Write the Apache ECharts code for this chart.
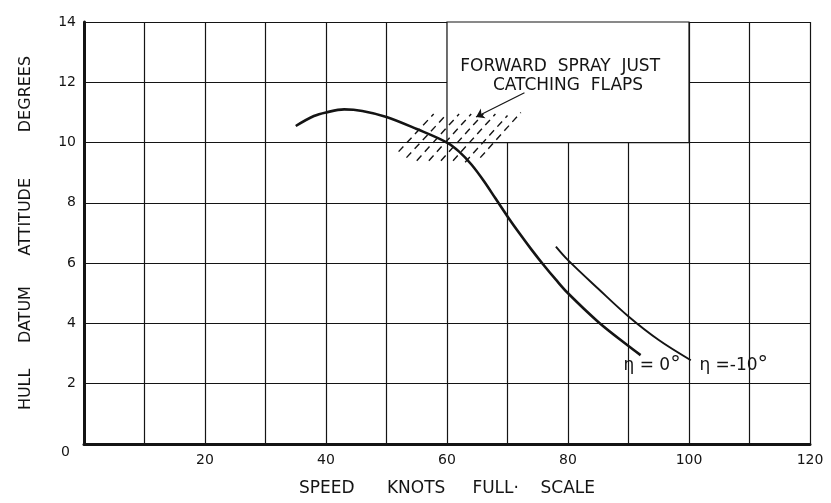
<!DOCTYPE html>
<html>
<head>
<meta charset="utf-8">
<script src="https://cdn.jsdelivr.net/npm/echarts@6/dist/echarts.min.js"></script>
<style>
	html, body { margin: 0; padding: 0; background: #fff; }
	#chart { width: 831px; height: 503px; }
</style>
</head>
<body>
<div id="chart"></div>
<script>
	// η = 0° 曲线 (speed knots / attitude deg)
	const speedEta0 = [35, 38, 40, 43, 46, 50, 55, 60, 62, 64, 66, 68, 70, 72, 74, 76, 78, 80, 85, 90, 92]
	const attitudeEta0 = [10.55, 10.88, 11.0, 11.1, 11.05, 10.85, 10.45, 10.0, 9.7, 9.28, 8.75, 8.15, 7.55, 6.98, 6.44, 5.93, 5.45, 5.0, 4.05, 3.25, 2.95]
	// η = -10° 曲线
	const speedEta10 = [78, 80, 85, 90, 95, 100.3]
	const attitudeEta10 = [6.55, 6.1, 5.15, 4.23, 3.45, 2.78]
	// 喷溅区域的虚线阴影
	const hatchX0 = [52.0, 53.3, 55.0, 57.0, 59.0, 61.0, 63.0, 65.5]
	const hatchY0 = [9.7, 9.5, 9.4, 9.4, 9.4, 9.4, 9.35, 9.5]
	const hatchX1 = [57.8, 60.0, 62.0, 64.0, 66.0, 68.0, 70.0, 72.2]
	const hatchY1 = [10.95, 10.95, 10.95, 10.95, 10.95, 10.95, 10.9, 11.0]
	// 注释框 (无网格) 和箭头
	const noteBox = [[60, 10], [100, 14]]
	const arrowFrom = [72.8, 11.65]
	const arrowTo = [64.8, 10.85]
	const noteText = ['FORWARD  SPRAY  JUST', 'CATCHING  FLAPS']
	const notePos = [[78.7, 12.53], [80.0, 11.88]]
	const curveLabelPos = [[93.9, 2.6], [107.4, 2.6]]
	const curveLabelText = ['{t|η = 0}{g|°}', '{t|η =-10}{g|°}']

	const ink = '#141414'
	const font = 'DejaVu Sans'
	const chart = echarts.init(document.getElementById('chart'))

	const toPairs = (xs, ys) => xs.map((x, i) => [x, ys[i]])

	const option = {
		animation: false,
		backgroundColor: '#fff',
		grid: { left: 84, right: 21, top: 22, bottom: 59 },
		xAxis: {
			type: 'value',
			min: 0,
			max: 120,
			interval: 10,
			name: 'SPEED      KNOTS     FULL·    SCALE',
			nameLocation: 'middle',
			nameGap: 36,
			nameTextStyle: { color: ink, fontSize: 17, fontFamily: font },
			axisLine: { show: true, lineStyle: { color: ink, width: 3 } },
			axisTick: { show: false },
			splitLine: { show: true, lineStyle: { color: ink, width: 1.2 } },
			axisLabel: {
				color: ink,
				fontSize: 14,
				fontFamily: font,
				margin: 9,
				formatter: v => (v > 0 && v % 20 === 0) ? String(v) : ''
			}
		},
		yAxis: {
			type: 'value',
			min: 0,
			max: 14,
			interval: 2,
			name: 'HULL     DATUM      ATTITUDE         DEGREES',
			nameLocation: 'middle',
			nameRotate: 90,
			nameGap: 50,
			nameTextStyle: { color: ink, fontSize: 16, fontFamily: font },
			axisLine: { show: true, lineStyle: { color: ink, width: 3 } },
			axisTick: { show: false },
			splitLine: { show: true, lineStyle: { color: ink, width: 1.2 } },
			axisLabel: {
				color: ink,
				fontSize: 14,
				fontFamily: font,
				margin: 8,
				formatter: v => v === 0 ? '{o|0}' : String(v),
				rich: { o: { fontSize: 14, fontFamily: font, color: ink, padding: [16, 6, 0, 0] } }
			}
		},
		series: [
			{
				// 注释框: 白底盖住网格
				type: 'line',
				z: 1,
				data: [],
				silent: true,
				markArea: {
					silent: true,
					itemStyle: { color: '#fff', borderColor: ink, borderWidth: 1.2, opacity: 1 },
					data: [[{ coord: noteBox[0] }, { coord: noteBox[1] }]]
				}
			},
			{
				name: 'eta0',
				type: 'line',
				z: 4,
				smooth: 0.35,
				showSymbol: false,
				data: toPairs(speedEta0, attitudeEta0),
				lineStyle: { color: ink, width: 2.6 }
			},
			{
				name: 'eta-10',
				type: 'line',
				z: 4,
				smooth: 0.35,
				showSymbol: false,
				data: toPairs(speedEta10, attitudeEta10),
				lineStyle: { color: ink, width: 1.9 }
			},
			{
				name: 'hatch',
				type: 'lines',
				coordinateSystem: 'cartesian2d',
				z: 3,
				silent: true,
				lineStyle: { color: ink, width: 1.4, type: [7, 5], opacity: 1 },
				data: hatchX0.map((x, i) => ({ coords: [[x, hatchY0[i]], [hatchX1[i], hatchY1[i]]] }))
			},
			{
				name: 'arrow',
				type: 'lines',
				coordinateSystem: 'cartesian2d',
				z: 3,
				silent: true,
				symbol: ['none', 'arrow'],
				symbolSize: 8,
				lineStyle: { color: ink, width: 1.2, opacity: 1 },
				data: [{ coords: [arrowFrom, arrowTo] }]
			},
			{
				name: 'notes',
				type: 'scatter',
				z: 5,
				silent: true,
				symbolSize: 1,
				itemStyle: { color: 'transparent', opacity: 1 },
				label: {
					show: true,
					position: 'inside',
					color: ink,
					opacity: 1,
					textBorderWidth: 0,
					textBorderColor: 'transparent',
					fontSize: 17,
					fontFamily: font,
					formatter: p => noteText[p.dataIndex]
				},
				data: notePos
			},
			{
				name: 'curveLabels',
				type: 'scatter',
				z: 5,
				silent: true,
				symbolSize: 1,
				itemStyle: { color: 'transparent', opacity: 1 },
				label: {
					show: true,
					position: 'inside',
					opacity: 1,
					textBorderWidth: 0,
					textBorderColor: 'transparent',
					formatter: p => curveLabelText[p.dataIndex],
					rich: {
						t: { color: ink, fontSize: 17, fontFamily: font, textBorderWidth: 0 },
						g: { color: ink, fontSize: 21, fontFamily: font, textBorderWidth: 0 }
					}
				},
				data: curveLabelPos
			}
		]
	}
	chart.setOption(option)
</script>
</body>
</html>
